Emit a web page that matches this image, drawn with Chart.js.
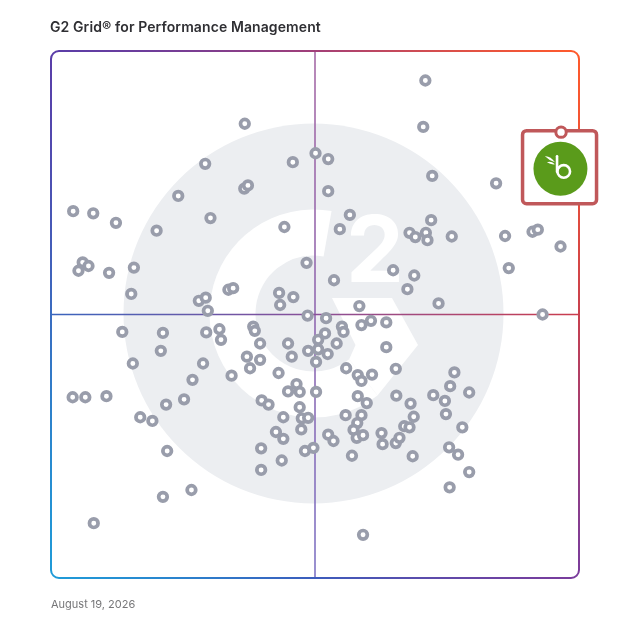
<!DOCTYPE html>
<html>
<head>
<meta charset="utf-8">
<script src="https://cdn.jsdelivr.net/npm/chart.js@4.4.1/dist/chart.umd.min.js"></script>
<style>
  html, body { margin: 0; padding: 0; background: #ffffff; }
  #wrap { position: relative; width: 628px; height: 628px; overflow: hidden; }
  #c { position: absolute; left: 0; top: 0; }
  #title { position: absolute; left: 50px; top: 20px; font: 600 14px Inter, "Noto Sans", sans-serif; line-height: 14px; color: #2f2f33; white-space: nowrap; letter-spacing: 0.1px; }
  #date { position: absolute; left: 51px; top: 599px; font: 400 11px Inter, "Noto Sans", sans-serif; line-height: 11px; color: #767678; white-space: nowrap; }
</style>
</head>
<body>
<div id="wrap">
  <canvas id="c" width="628" height="628"></canvas>
  <div id="title">G2 Grid® for Performance Management</div>
  <div id="date">August 19, 2026</div>
</div>
<script>
// Satisfaction (x, 0-100) and Market Presence (y, 0-100) of the products on the grid
const satisfaction = [
  36.7, 29.2, 24.1, 36.6, 37.3, 30.2, 20.0, 4.2, 8.0, 12.3,
  45.8, 50.1, 52.5, 52.5, 44.2, 48.4, 53.6, 56.6, 54.7, 6.0,
  7.1, 5.2, 11.0, 15.7, 15.2, 28.0, 29.3, 29.7, 33.6, 34.5,
  43.2, 45.9, 43.4, 48.6, 70.9, 70.5, 72.2, 84.3, 67.9, 69.0,
  71.0, 71.3, 72.0, 75.9, 86.0, 91.2, 92.2, 96.5, 86.7, 64.8,
  68.8, 67.5, 58.4, 73.4, 93.1, 13.5, 21.2, 20.8, 15.5, 28.8,
  26.8, 4.1, 6.5, 10.5, 21.8, 25.2, 16.9, 19.2, 22.0, 26.6,
  21.2, 8.1, 29.4, 31.9, 32.2, 38.3, 38.6, 39.6, 44.9, 45.6,
  48.7, 50.6, 50.6, 51.9, 52.4, 50.2, 54.1, 37.1, 39.6, 37.7,
  34.2, 43.1, 46.5, 44.9, 47.1, 50.2, 39.9, 41.2, 47.1, 44.0,
  47.5, 48.7, 47.4, 42.6, 44.0, 39.8, 48.1, 49.7, 43.7, 39.8,
  52.1, 55.1, 55.4, 58.8, 60.6, 63.5, 63.5, 55.9, 58.1, 58.8,
  60.8, 65.3, 58.1, 59.8, 65.4, 68.1, 72.4, 74.6, 76.4, 75.6,
  79.2, 74.8, 77.9, 75.4, 77.1, 79.2, 75.5, 55.8, 58.8, 58.0,
  57.3, 57.9, 59.1, 62.6, 62.8, 65.3, 66.0, 66.9, 67.9, 68.7,
  68.5, 57.0, 52.5, 53.5, 59.1
];
const marketPresence = [
  86.2, 78.6, 72.5, 73.9, 74.5, 68.3, 65.9, 69.6, 69.2, 67.4,
  78.9, 80.6, 79.5, 73.4, 66.6, 59.8, 56.5, 68.9, 66.2, 59.9,
  59.2, 58.3, 57.9, 58.9, 53.9, 52.6, 53.2, 50.7, 54.7, 55.0,
  54.1, 53.3, 51.8, 49.8, 94.4, 85.6, 76.3, 74.9, 65.5, 64.7,
  65.5, 64.1, 67.9, 64.8, 64.9, 65.7, 66.1, 62.9, 58.8, 58.4,
  57.4, 54.8, 51.6, 52.1, 50.0, 46.7, 46.5, 43.1, 40.7, 40.7,
  37.6, 34.3, 34.3, 34.5, 32.9, 33.9, 30.5, 29.8, 24.1, 16.7,
  15.4, 10.4, 46.6, 47.2, 45.2, 47.7, 46.9, 44.5, 44.5, 42.0,
  43.1, 45.2, 43.4, 46.4, 42.5, 41.0, 44.5, 42.0, 41.4, 39.8,
  38.4, 38.9, 36.8, 35.4, 35.3, 35.3, 33.7, 32.9, 32.4, 30.5,
  30.3, 30.4, 28.2, 27.7, 26.4, 24.6, 24.1, 24.7, 22.3, 20.5,
  49.3, 47.7, 46.7, 48.0, 48.8, 48.5, 43.8, 39.8, 38.5, 37.4,
  38.6, 39.7, 34.5, 33.2, 34.6, 33.1, 34.7, 33.6, 39.0, 36.4,
  35.2, 31.1, 28.6, 24.8, 23.4, 20.1, 17.2, 30.9, 30.9, 29.4,
  28.1, 26.6, 27.1, 27.5, 25.4, 25.6, 26.6, 28.8, 28.6, 30.6,
  23.1, 23.2, 27.2, 26.0, 8.2
];
// Highlighted product (BambooHR)
const highlightSatisfaction = [96.6];
const highlightPresence = [84.6];

const pts = satisfaction.map((v, i) => ({ x: v, y: marketPresence[i] }));
const hl = highlightSatisfaction.map((v, i) => ({ x: v, y: highlightPresence[i] }));

const RED = '#c0585a';

const backgroundPlugin = {
  id: 'g2background',
  beforeDatasetsDraw(chart) {
    const { ctx, chartArea: a, scales: { x, y } } = chart;
    const k = (a.right - a.left) / 528;
    const mx = x.getPixelForValue(50), my = y.getPixelForValue(50);
    const cx = mx - 1.5 * k, cy = my - 1 * k;
    const d = Math.PI / 180;
    ctx.save();
    // watermark disk
    ctx.fillStyle = '#eceef1';
    ctx.beginPath(); ctx.arc(cx, cy, 190 * k, 0, Math.PI * 2); ctx.fill();
    ctx.fillStyle = '#ffffff';
    // G ring
    ctx.beginPath();
    ctx.arc(cx, cy, 104 * k, -80 * d, 52 * d, true);
    ctx.arc(cx, cy, 58 * k, 52 * d, -80 * d, false);
    ctx.closePath(); ctx.fill();
    // chevron
    const chev = [[18.5, -15.5], [78.5, -15.5], [104.5, 31.5], [64, 82], [35.7, 45.7], [42, 31.5]];
    ctx.beginPath();
    chev.forEach((p, i) => { const px = cx + p[0] * k, py = cy + p[1] * k; i ? ctx.lineTo(px, py) : ctx.moveTo(px, py); });
    ctx.closePath(); ctx.fill();
    // "2"
    ctx.font = `bold ${92 * k}px Inter, "Noto Sans", sans-serif`;
    ctx.textAlign = 'center'; ctx.textBaseline = 'alphabetic';
    ctx.fillText('2', cx + 61.5 * k, cy - 31.5 * k);

    // quadrant lines
    ctx.lineWidth = 1.6;
    let g = ctx.createLinearGradient(0, a.top, 0, a.bottom);
    g.addColorStop(0, '#a66aa6'); g.addColorStop(0.5, '#9068b0'); g.addColorStop(1, '#7f74c4');
    ctx.strokeStyle = g;
    ctx.beginPath(); ctx.moveTo(mx, a.top); ctx.lineTo(mx, a.bottom); ctx.stroke();
    g = ctx.createLinearGradient(a.left, 0, a.right, 0);
    g.addColorStop(0, '#3a64bd'); g.addColorStop(0.5, '#8a4f98'); g.addColorStop(1, '#cb3d4d');
    ctx.strokeStyle = g;
    ctx.beginPath(); ctx.moveTo(a.left, my); ctx.lineTo(a.right, my); ctx.stroke();

    // outer border
    const cg = ctx.createConicGradient(-3 * Math.PI / 4, (a.left + a.right) / 2, (a.top + a.bottom) / 2);
    cg.addColorStop(0, '#5a3da8');
    cg.addColorStop(0.125, '#a23f78');
    cg.addColorStop(0.25, '#ff5a2c');
    cg.addColorStop(0.375, '#c8404e');
    cg.addColorStop(0.5, '#7a3c9c');
    cg.addColorStop(0.625, '#3c5cbc');
    cg.addColorStop(0.75, '#1f9bd8');
    cg.addColorStop(0.875, '#3a6cc0');
    cg.addColorStop(1, '#5a3da8');
    ctx.strokeStyle = cg; ctx.lineWidth = 2;
    ctx.beginPath(); ctx.roundRect(a.left, a.top, a.right - a.left, a.bottom - a.top, 8 * k); ctx.stroke();
    ctx.restore();
  },
  afterDatasetDraw(chart, args) {
    if (args.index !== 0) return;
    const meta = chart.getDatasetMeta(1);
    if (!meta.data.length) return;
    const { x: px, y: py } = meta.data[0].getProps(['x', 'y'], true);
    const ctx = chart.ctx;
    ctx.save();
    // box
    ctx.fillStyle = '#ffffff'; ctx.strokeStyle = RED; ctx.lineWidth = 3.5;
    ctx.beginPath(); ctx.roundRect(px - 38.5, py - 1.5, 74, 73, 4); ctx.fill(); ctx.stroke();
    // green logo disk
    const gx = px - 0.6, gy = py + 36.6;
    ctx.fillStyle = '#5a9b1b';
    ctx.beginPath(); ctx.arc(gx, gy, 27, 0, Math.PI * 2); ctx.fill();
    // "b" mark
    ctx.strokeStyle = '#ffffff'; ctx.fillStyle = '#ffffff'; ctx.lineWidth = 2.6; ctx.lineCap = 'round';
    ctx.beginPath(); ctx.moveTo(gx - 3.4, gy - 12.5); ctx.lineTo(gx - 3.4, gy + 3); ctx.stroke();
    ctx.beginPath(); ctx.arc(gx + 3.3, gy + 2.7, 6.3, 0, Math.PI * 2); ctx.stroke();
    // leaves
    ctx.beginPath();
    ctx.moveTo(gx - 5.5, gy - 6.5);
    ctx.quadraticCurveTo(gx - 10, gy - 13, gx - 15.5, gy - 12.5);
    ctx.quadraticCurveTo(gx - 11, gy - 8, gx - 5.5, gy - 6.5);
    ctx.fill();
    ctx.beginPath();
    ctx.moveTo(gx - 5.5, gy - 4.5);
    ctx.quadraticCurveTo(gx - 9.5, gy - 8, gx - 13.5, gy - 6.5);
    ctx.quadraticCurveTo(gx - 9.5, gy - 3.8, gx - 5.5, gy - 4.5);
    ctx.fill();
    ctx.restore();
  }
};

new Chart(document.getElementById('c'), {
  type: 'scatter',
  data: {
    datasets: [
      {
        label: 'Products',
        data: pts,
        order: 2,
        pointRadius: 4.3,
        pointHoverRadius: 4.3,
        borderWidth: 3.7,
        pointBorderColor: '#999dab',
        pointBackgroundColor: '#ffffff',
        clip: false
      },
      {
        label: 'BambooHR',
        data: hl,
        order: 1,
        pointRadius: 5.2,
        pointHoverRadius: 5.2,
        borderWidth: 3,
        pointBorderColor: RED,
        pointBackgroundColor: '#ffffff',
        clip: false
      }
    ]
  },
  options: {
    responsive: false,
    animation: false,
    devicePixelRatio: 1,
    layout: { padding: { left: 51, top: 51, right: 49, bottom: 50 } },
    scales: {
      x: { type: 'linear', min: 0, max: 100, display: false },
      y: { type: 'linear', min: 0, max: 100, display: false }
    },
    plugins: { legend: { display: false }, tooltip: { enabled: false } },
    events: []
  },
  plugins: [backgroundPlugin]
});
</script>
</body>
</html>
